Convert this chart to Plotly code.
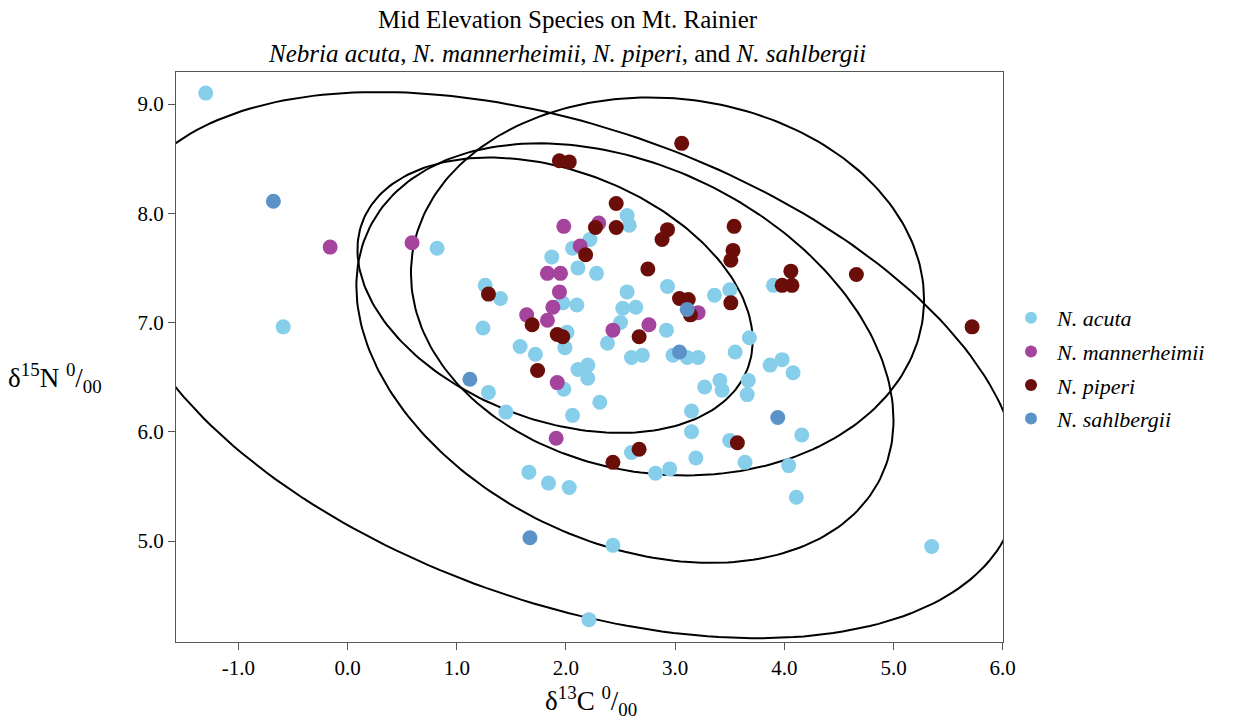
import numpy as np
import plotly.graph_objects as go

# ---------------- data ----------------
acuta_x = [-1.30, -0.59, 0.82, 1.26, 1.24, 1.29, 1.45, 1.66, 1.84, 2.03, 2.21, 2.43, 5.35,
           1.58, 1.72, 1.99, 1.98, 2.06, 2.31, 2.11, 2.20, 2.20, 2.38, 2.60, 2.70, 2.98,
           3.11, 3.21, 3.15, 3.15, 3.27, 3.41, 3.43, 3.55, 3.68, 3.67, 3.66, 3.50, 3.64,
           2.82, 2.95, 2.60, 3.19, 3.87, 3.98, 4.08, 4.04, 4.11, 4.16, 3.90, 3.36, 3.50,
           2.56, 2.93, 2.64, 2.52, 2.10, 1.97, 1.87, 2.06, 2.22, 2.11, 2.28, 2.56, 2.58,
           1.40, 2.01, 2.92, 2.50]
acuta_y = [9.10, 6.96, 7.68, 7.34, 6.95, 6.36, 6.18, 5.63, 5.53, 5.49, 4.28, 4.96, 4.95,
           6.78, 6.71, 6.77, 6.39, 6.15, 6.27, 6.57, 6.61, 6.49, 6.81, 6.68, 6.70, 6.70,
           6.68, 6.68, 6.19, 6.00, 6.41, 6.47, 6.38, 6.73, 6.86, 6.47, 6.34, 5.92, 5.72,
           5.62, 5.66, 5.81, 5.76, 6.61, 6.66, 6.54, 5.69, 5.40, 5.97, 7.34, 7.25, 7.30,
           7.28, 7.33, 7.14, 7.13, 7.16, 7.18, 7.60, 7.68, 7.76, 7.50, 7.45, 7.98, 7.89,
           7.22, 6.91, 6.93, 7.00]

mann_x = [-0.16, 0.59, 1.98, 2.30, 2.13, 1.83, 1.95, 1.94, 1.88, 1.64, 1.83, 2.43, 2.76,
          3.21, 1.92, 1.91]
mann_y = [7.69, 7.73, 7.88, 7.91, 7.70, 7.45, 7.45, 7.28, 7.14, 7.07, 7.02, 6.93, 6.98,
          7.09, 6.45, 5.94]

piperi_x = [3.06, 1.94, 2.03, 2.46, 2.27, 2.46, 2.18, 2.93, 2.88, 2.75, 3.54, 3.53, 3.51,
            4.06, 3.98, 4.07, 4.66, 5.72, 3.51, 3.04, 3.12, 3.14, 1.69, 1.29, 1.92, 1.97,
            2.67, 1.74, 2.67, 2.43, 3.57]
piperi_y = [8.64, 8.48, 8.47, 8.09, 7.87, 7.87, 7.62, 7.85, 7.76, 7.49, 7.88, 7.66, 7.57,
            7.47, 7.34, 7.34, 7.44, 6.96, 7.18, 7.22, 7.21, 7.07, 6.98, 7.26, 6.89, 6.87,
            6.87, 6.56, 5.84, 5.72, 5.90]

sahl_x = [-0.68, 1.12, 1.67, 3.11, 3.04, 3.94]
sahl_y = [8.11, 6.48, 5.03, 7.12, 6.73, 6.13]

# ellipses: centre, half x-extent, half y-extent, correlation
ell_cx = [2.02, 2.54, 2.93, 1.90]
ell_cy = [6.61, 6.72, 7.33, 7.25]
ell_sx = [4.13, 2.46, 2.35, 1.81]
ell_sy = [2.50, 1.92, 1.73, 1.26]
ell_r = [-0.42, -0.32, -0.07, -0.33]

x_ticks = [-1.0, 0.0, 1.0, 2.0, 3.0, 4.0, 5.0, 6.0]
y_ticks = [5.0, 6.0, 7.0, 8.0, 9.0]

title_line1 = "Mid Elevation Species on Mt. Rainier"
title_line2 = ("<i>Nebria acuta</i>, <i>N. mannerheimii</i>, <i>N. piperi</i>, "
               "and <i>N. sahlbergii</i>")

SERIF = "Liberation Serif"
PLOT_L, PLOT_T, PLOT_W, PLOT_H = 176, 72, 827, 570


def px_x(px):
    return (px - PLOT_L) / PLOT_W


def px_y(py):
    return (PLOT_T + PLOT_H - py) / PLOT_H


fig = go.Figure()

t = np.linspace(0, 2 * np.pi, 241)
for cx, cy, sx, sy, r in zip(ell_cx, ell_cy, ell_sx, ell_sy, ell_r):
    ex = cx + sx * np.cos(t)
    ey = cy + sy * (r * np.cos(t) + np.sqrt(1 - r * r) * np.sin(t))
    fig.add_trace(go.Scatter(x=ex, y=ey, mode="lines",
                             line=dict(color="black", width=2),
                             showlegend=False, hoverinfo="skip"))

series = [
    ("<i>N. acuta</i>", acuta_x, acuta_y, "#87CEEB"),
    ("<i>N. mannerheimii</i>", mann_x, mann_y, "#A5449C"),
    ("<i>N. piperi</i>", piperi_x, piperi_y, "#6B0E0A"),
    ("<i>N. sahlbergii</i>", sahl_x, sahl_y, "#5B93C9"),
]
for i, (name, xs, ys, col) in enumerate(series):
    fig.add_trace(go.Scatter(x=xs, y=ys, mode="markers", name=name,
                             legendgroup=f"g{i}",
                             marker=dict(color=col, size=15, line=dict(width=0))))

fig.update_layout(
    width=1238, height=719,
    margin=dict(l=PLOT_L, r=1238 - PLOT_L - PLOT_W, t=PLOT_T, b=719 - PLOT_T - PLOT_H),
    paper_bgcolor="white", plot_bgcolor="white",
    font=dict(family=SERIF, color="black"),
    showlegend=True,
    legend=dict(x=px_x(1005), xanchor="left", y=px_y(297), yanchor="top",
                font=dict(family=SERIF, size=22, color="black"),
                tracegroupgap=2, itemsizing="constant", itemwidth=42,
                bgcolor="rgba(0,0,0,0)"),
)

fig.update_xaxes(range=[-1.572, 6.003], tickvals=x_ticks,
                 ticktext=[f"{v:.1f}" for v in x_ticks],
                 showgrid=False, zeroline=False,
                 showline=True, linecolor="#555", linewidth=1, mirror=True,
                 ticks="outside", ticklen=7, tickcolor="#555", tickwidth=1,
                 tickfont=dict(family=SERIF, size=21, color="black"))
fig.update_yaxes(range=[4.0755, 9.293], tickvals=y_ticks,
                 ticktext=[f"{v:.1f}" for v in y_ticks],
                 showgrid=False, zeroline=False,
                 showline=True, linecolor="#555", linewidth=1, mirror=True,
                 ticks="outside", ticklen=7, tickcolor="#555", tickwidth=1,
                 tickfont=dict(family=SERIF, size=21, color="black"))

# title lines
fig.add_annotation(text=title_line1, xref="paper", yref="paper",
                   x=px_x(568), xanchor="center", y=px_y(20), yanchor="middle",
                   showarrow=False, font=dict(family=SERIF, size=25, color="black"))
fig.add_annotation(text=title_line2, xref="paper", yref="paper",
                   x=px_x(567), xanchor="center", y=px_y(54), yanchor="middle",
                   showarrow=False, font=dict(family=SERIF, size=25, color="black"))

# axis titles
fig.add_annotation(text="δ<sup>13</sup>C <sup>0</sup>/<sub>00</sub>",
                   xref="paper", yref="paper", x=px_x(591), xanchor="center",
                   y=px_y(701), yanchor="middle", showarrow=False,
                   font=dict(family=SERIF, size=27, color="black"))
fig.add_annotation(text="δ<sup>15</sup>N <sup>0</sup>/<sub>00</sub>",
                   xref="paper", yref="paper", x=px_x(6), xanchor="left",
                   y=px_y(378), yanchor="middle", showarrow=False,
                   font=dict(family=SERIF, size=27, color="black"))

fig.write_html("out.html")
